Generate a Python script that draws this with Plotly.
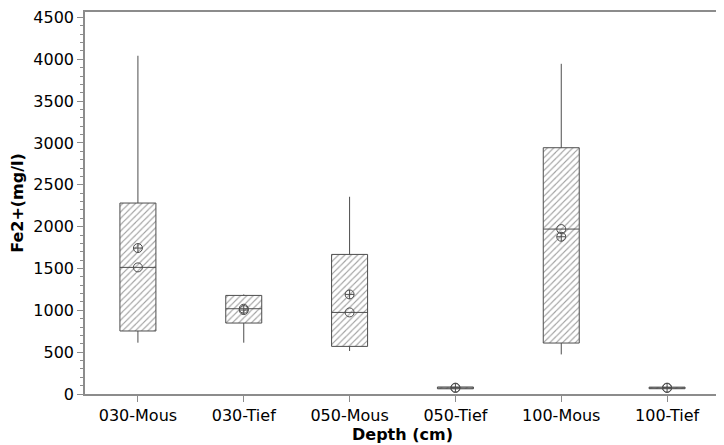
import plotly.graph_objects as go

# Fe2+ nach Tiefe / Standort
depths = ["030-Mous", "030-Tief", "050-Mous", "050-Tief", "100-Mous", "100-Tief"]
q1 = [753, 848, 569, 62, 609, 63]
medians = [1513, 1019, 975, 72, 1971, 72]
q3 = [2282, 1178, 1668, 84, 2943, 82]
lowerWhisker = [613, 613, 514, 55, 473, 58]
upperWhisker = [4042, 1190, 2357, 92, 3946, 90]
means = [1744, 1003, 1190, 76, 1879, 76]

lineColor = '#4d4d4d'
axisColor = '#8c8c8c'
boxWidth = 0.34

fig = go.Figure()

# schraffierte Füllung der Boxen (q1..q3)
fig.add_trace(go.Bar(
    x=depths,
    y=[b - a for a, b in zip(q1, q3)],
    base=q1,
    width=boxWidth,
    marker=dict(
        color='white',
        line_width=0,
        pattern=dict(shape='/', fgcolor='#404040', bgcolor='white', size=4.5, solidity=0.25),
    ),
    hoverinfo='skip',
))

fig.add_trace(go.Box(
    x=depths,
    q1=q1,
    median=medians,
    q3=q3,
    lowerfence=lowerWhisker,
    upperfence=upperWhisker,
    width=boxWidth,
    fillcolor='rgba(0,0,0,0)',
    line=dict(color=lineColor, width=1),
    whiskerwidth=0,
))

fig.add_trace(go.Scatter(
    x=depths, y=medians, mode='markers',
    marker=dict(symbol='circle-open', size=9, color=lineColor, line=dict(width=1)),
))
fig.add_trace(go.Scatter(
    x=depths, y=means, mode='markers',
    marker=dict(symbol='circle-cross-open', size=9, color=lineColor, line=dict(width=1)),
))

# die Seite hat 8px Rand -> Figur verschoben
fig.update_layout(
    width=716,
    height=439,
    showlegend=False,
    plot_bgcolor='white',
    paper_bgcolor='white',
    font=dict(family='DejaVu Sans', size=16, color='black'),
    margin=dict(l=77, r=4, t=4, b=53, autoexpand=False),
)
fig.update_xaxes(
    range=[-0.5, 5.5],
    showline=True, mirror=True, linecolor=axisColor, linewidth=1.5,
    ticks='outside', ticklen=6, tickcolor=axisColor,
    showgrid=False,
    title=dict(text='<b>Depth (cm)</b>', font=dict(size=16), standoff=2),
)
fig.update_yaxes(
    range=[0, 4565],
    dtick=500,
    showline=True, mirror=True, linecolor=axisColor, linewidth=1.5,
    ticks='outside', ticklen=6, tickcolor=axisColor,
    ticklabeloverflow='allow',
    minor=dict(dtick=100, ticks='outside', ticklen=3, tickcolor=axisColor),
    showgrid=False, zeroline=False,
    title=dict(text='<b>Fe2+(mg/l)</b>', font=dict(size=16), standoff=10),
)

fig.write_html("out.html")
